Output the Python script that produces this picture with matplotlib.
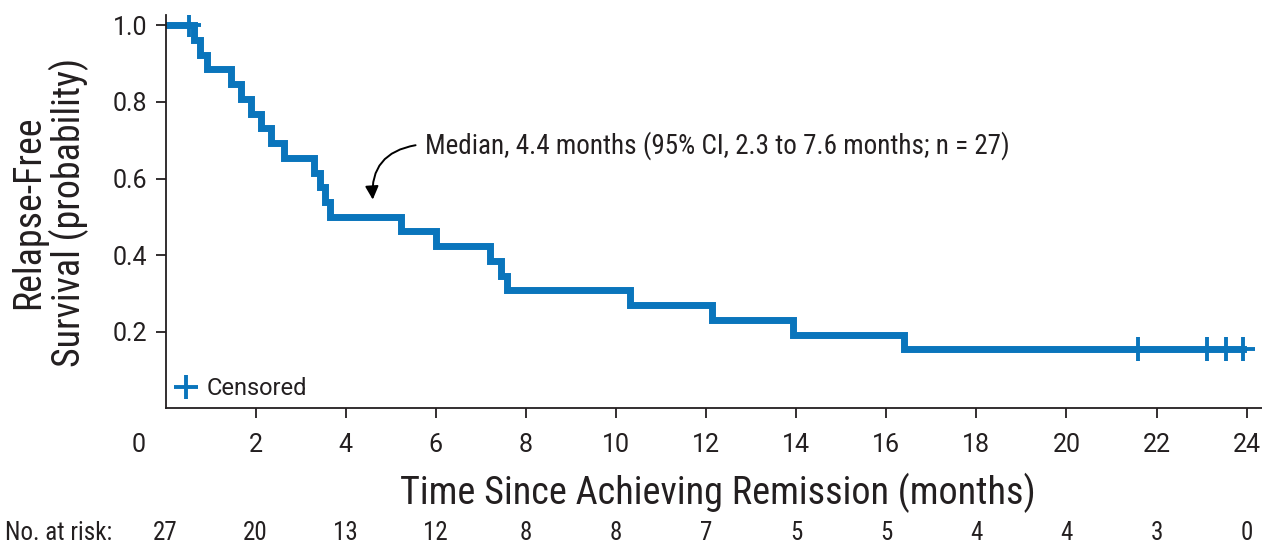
import matplotlib
matplotlib.use("Agg")
import matplotlib.pyplot as plt
from matplotlib.transforms import blended_transform_factory

# ------------------------------------------------------------
# data (Kaplan-Meier, n = 27)
# ------------------------------------------------------------
event_times = [0, 0.63, 0.77, 0.91, 1.45, 1.67, 1.89, 2.11, 2.34, 2.64,
               3.30, 3.43, 3.53, 3.64, 5.22, 6.00, 7.20, 7.44, 7.57,
               10.31, 12.13, 13.93, 16.40]
survival = [1.0, 0.962, 0.923, 0.885, 0.846, 0.808, 0.769, 0.731, 0.692, 0.654,
            0.615, 0.577, 0.538, 0.500, 0.462, 0.423, 0.385, 0.346, 0.308,
            0.269, 0.231, 0.192, 0.154]
last_followup = 23.92

censor_times = [0.52, 21.58, 23.13, 23.53, 23.92]
censor_surv = [1.0, 0.154, 0.154, 0.154, 0.154]

risk_months = [0, 2, 4, 6, 8, 10, 12, 14, 16, 18, 20, 22, 24]
at_risk = [27, 20, 13, 12, 8, 8, 7, 5, 5, 4, 4, 3, 0]

x_ticks = [2, 4, 6, 8, 10, 12, 14, 16, 18, 20, 22, 24]
y_ticks = [0.2, 0.4, 0.6, 0.8, 1.0]

# ------------------------------------------------------------
# style
# ------------------------------------------------------------
BLUE = '#0a75bc'
TEXT = '#231f20'
NARROW = ['Liberation Sans Narrow', 'Roboto Condensed', 'DejaVu Sans']
REGULAR = ['Roboto', 'DejaVu Sans']

plt.rcParams['font.family'] = REGULAR

fig = plt.figure(figsize=(12.62, 5.46), dpi=100)
ax = fig.add_axes([0.1312, 0.2522, 0.8688, 0.7203])

xs = event_times + [last_followup]
ys = survival + [survival[-1]]
ax.step(xs, ys, where='post', color=BLUE, lw=5, solid_joinstyle='miter')
ax.plot(censor_times, censor_surv, ls='none', marker='+', ms=17, mew=2.8,
        color=BLUE, label='Censored')

ax.set_xlim(0, 24.34)
ax.set_ylim(0, 1.027)
ax.set_xticks(x_ticks)
ax.set_xticklabels([str(t) for t in x_ticks])
ax.set_yticks(y_ticks)
ax.set_yticklabels([f'{t:.1f}' for t in y_ticks])

for side in ['top', 'right']:
    ax.spines[side].set_visible(False)
for side in ['left', 'bottom']:
    ax.spines[side].set_linewidth(1.3)
    ax.spines[side].set_color(TEXT)

ax.tick_params(axis='both', direction='out', length=7, width=1.3,
               color=TEXT, labelcolor=TEXT, labelsize=18)
ax.tick_params(axis='x', pad=11)
ax.tick_params(axis='y', pad=6)

# "0" label sits left of the corner in the original
trans = blended_transform_factory(ax.transData, ax.transAxes)
ax.text(-0.6, -0.093, '0', transform=trans, ha='center', va='center',
        fontsize=18, color=TEXT, clip_on=False)

# median annotation
ax.annotate('', xy=(4.6, 0.545), xytext=(5.55, 0.687),
            arrowprops=dict(arrowstyle='-|>', color='black', lw=1.4,
                            connectionstyle='arc3,rad=0.45',
                            mutation_scale=20, shrinkA=0, shrinkB=0))
ax.text(5.76, 0.687, 'Median, 4.4 months (95% CI, 2.3 to 7.6 months; n = 27)',
        ha='left', va='center', fontsize=19.5, color=TEXT, family=NARROW)

leg = ax.legend(loc='lower left', bbox_to_anchor=(0.0, 0.0), frameon=False,
                handlelength=1.0, handletextpad=0.4, fontsize=17,
                borderaxespad=0.1, borderpad=0.25)
for t in leg.get_texts():
    t.set_color(TEXT)

# axis labels
fig.text(718 / 1262, 1 - 493 / 546, 'Time Since Achieving Remission (months)',
         ha='center', va='center', fontsize=27.5, color=TEXT, family=NARROW)
fig.text(50 / 1262, 1 - 212 / 546, 'Relapse-Free\nSurvival (probability)',
         ha='center', va='center', rotation=90, fontsize=27.4, color=TEXT,
         family=NARROW, linespacing=1.05)

# number at risk row
row_y = 1 - 533 / 546
row_trans = blended_transform_factory(ax.transData, fig.transFigure)
fig.text(5 / 1262, row_y, 'No. at risk:', ha='left', va='center',
         fontsize=18, color=TEXT, family=NARROW)
for m, n in zip(risk_months, at_risk):
    ax.text(m, row_y, str(n), transform=row_trans,
            ha='center', va='center', fontsize=18, color=TEXT, family=NARROW,
            clip_on=False)

fig.savefig('out.png', dpi=100)
